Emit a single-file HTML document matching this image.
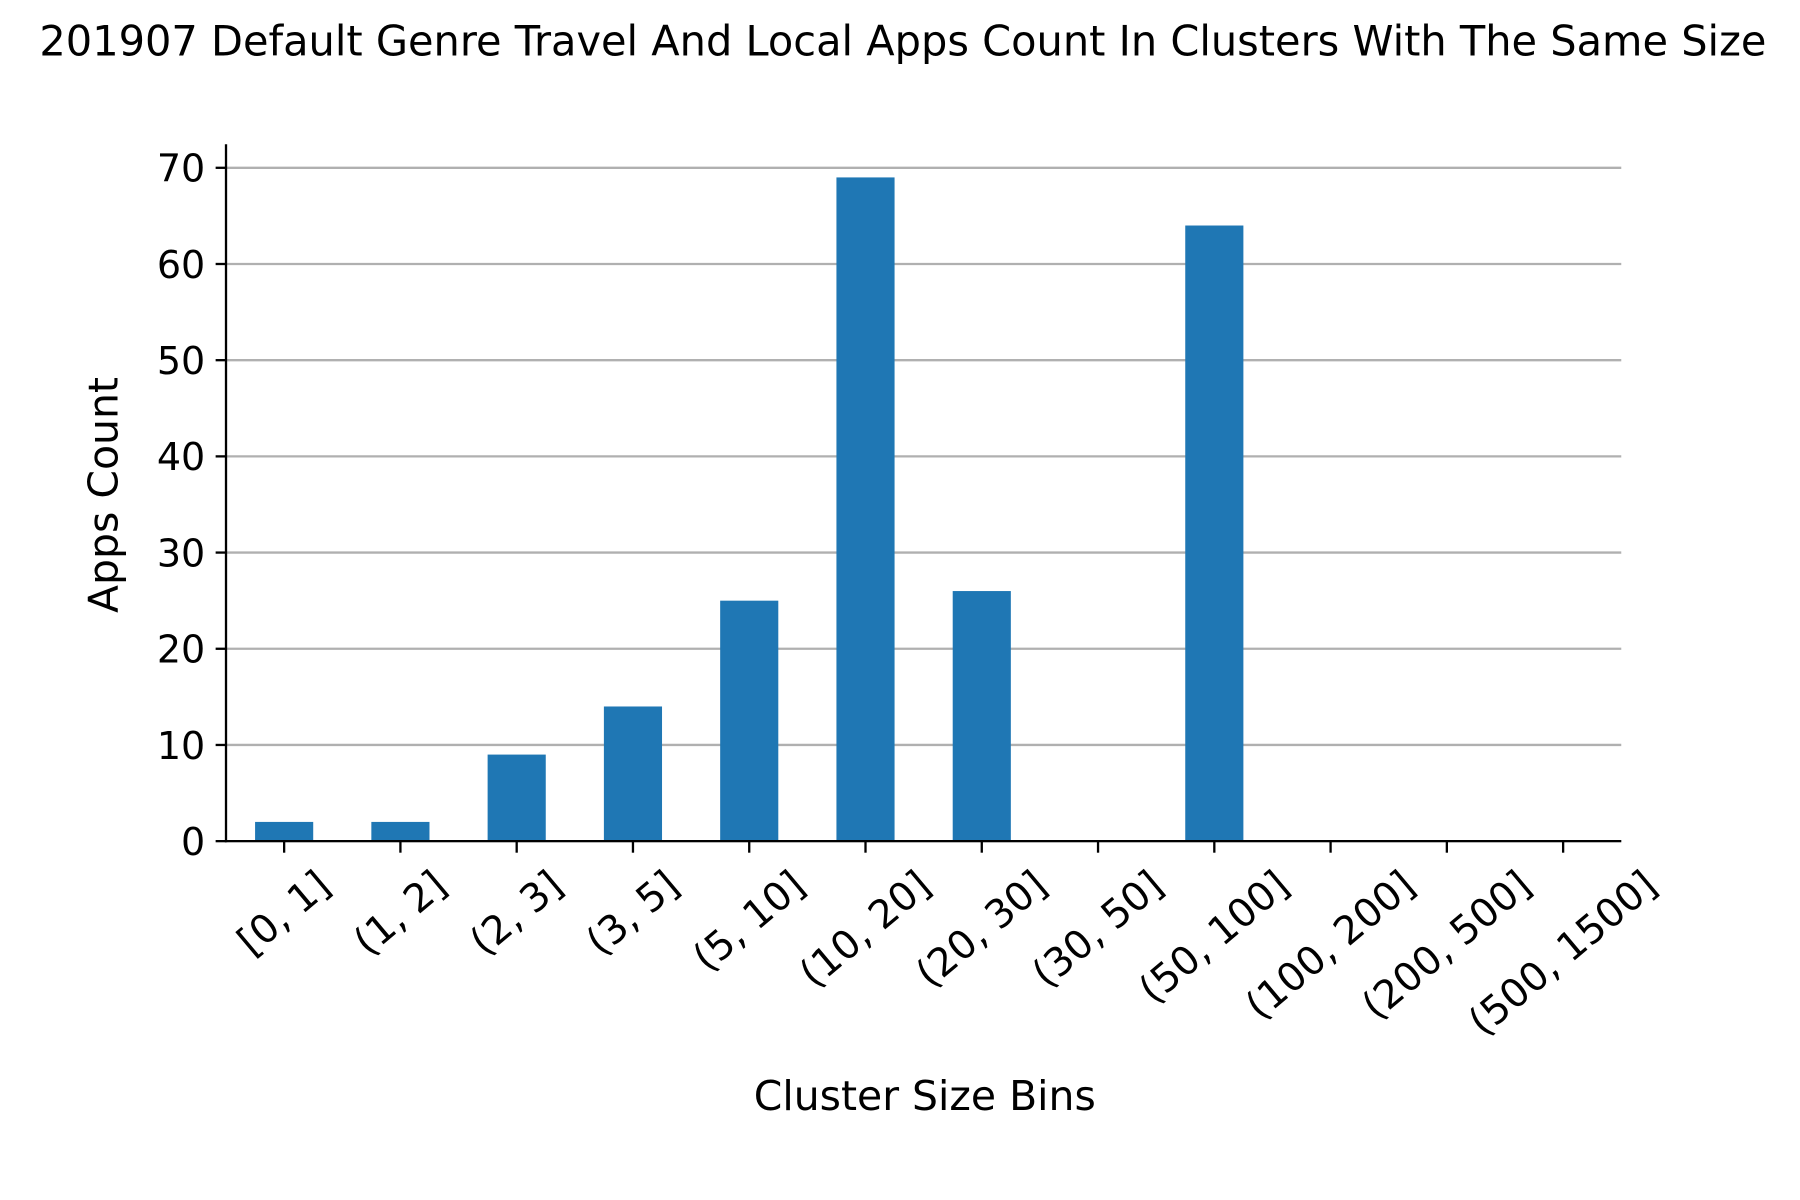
<!DOCTYPE html>
<html><head><meta charset="utf-8"><style>
html,body{margin:0;padding:0;background:#fff;}
svg{display:block;font-family:"DejaVu Sans","Liberation Sans",sans-serif;}
</style></head><body>
<svg id="chart" width="1800" height="1200" viewBox="0 0 1561 1040" preserveAspectRatio="none" xmlns="http://www.w3.org/2000/svg">
<text x="783" y="48" text-anchor="middle" font-size="36">201907 Default Genre Travel And Local Apps Count In Clusters With The Same Size</text>
<g id="grid"></g><g id="bars"></g><g id="axes"></g>
<text x="0" y="0" transform="translate(102,429) rotate(-90)" text-anchor="middle" font-size="35.5">Apps Count</text>
<text x="802" y="962" text-anchor="middle" font-size="35.5">Cluster Size Bins</text>
</svg>
<script>
const categories=["[0, 1]","(1, 2]","(2, 3]","(3, 5]","(5, 10]","(10, 20]","(20, 30]","(30, 50]","(50, 100]","(100, 200]","(200, 500]","(500, 1500]"];
const values=[2,2,9,14,25,69,26,0,64,0,0,0];
const yTicks=[0,10,20,30,40,50,60,70];
const NS="http://www.w3.org/2000/svg";
const L=196,R=1406,B=729,T=125,yMax=72.45;
const xs=i=>L+(i+0.5)*(R-L)/categories.length;
const ys=v=>B-v*(B-T)/yMax;
const bw=0.5*(R-L)/categories.length;
function mk(tag,attrs,parent){const e=document.createElementNS(NS,tag);for(const k in attrs)e.setAttribute(k,attrs[k]);parent.appendChild(e);return e;}
const grid=document.getElementById('grid'),bars=document.getElementById('bars'),axes=document.getElementById('axes');
yTicks.forEach(t=>{
  const g=mk('line',{x1:L,x2:R,y1:ys(t),y2:ys(t),stroke:'#b0b0b0','stroke-width':2},grid);
  
  
  const tk=mk('line',{x1:L-9,x2:L,y1:ys(t),y2:ys(t),stroke:'#000','stroke-width':2},axes);
  
  
  const lb=mk('text',{x:L-18,y:ys(t)+12,'text-anchor':'end','font-size':33},axes);
  lb.textContent=t;
  
  
});
values.forEach((v,i)=>{
  const r=mk('rect',{x:xs(i)-bw/2,y:ys(v),width:bw,height:B-ys(v),fill:'#1f77b4'},bars);
  
  
});
const sp=mk('line',{x1:L,x2:L,y1:T,y2:B+1,stroke:'#000','stroke-width':2},axes);


const sb=mk('line',{x1:L-1,x2:R,y1:B,y2:B,stroke:'#000','stroke-width':2},axes);


const s40=Math.sin(40*Math.PI/180),c40=Math.cos(40*Math.PI/180);
categories.forEach((c,i)=>{
  const x=xs(i);
  const tk=mk('line',{x1:x,x2:x,y1:B,y2:B+10,stroke:'#000','stroke-width':2},axes);
  
  
  const lb=mk('text',{x:x,y:0,'text-anchor':'middle','dominant-baseline':'central','font-size':34},axes);
  lb.textContent=c;
  
  
  const len=lb.getComputedTextLength();
  const h=len*s40+30*c40;
  const cy=B+22+h/2;
  lb.setAttribute('y',cy);
  lb.setAttribute('transform','rotate(-40,'+x+','+cy+')');
});
</script>
</body></html>
